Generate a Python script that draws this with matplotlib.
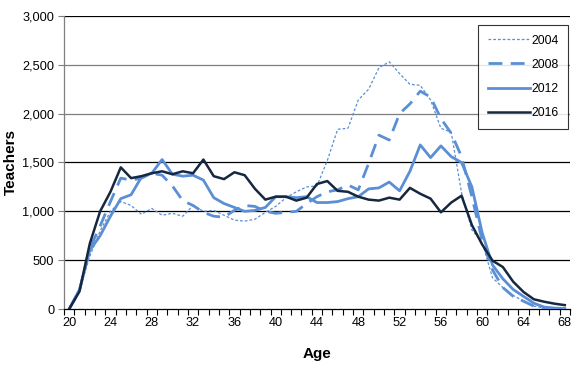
import matplotlib
matplotlib.use("Agg")
import matplotlib.pyplot as plt
import numpy as np

plt.rcParams['font.family'] = ['Liberation Sans', 'DejaVu Sans']

# === DATA ===
ages = list(range(20, 69))
t2004 = [0, 190, 540, 800, 1000, 1100, 1060, 970, 1030, 960,
         980, 950, 1060, 1000, 1010, 960, 910, 900, 920, 990,
         1050, 1140, 1200, 1250, 1260, 1520, 1840, 1850, 2140, 2250,
         2470, 2530, 2410, 2300, 2290, 2140, 1850, 1810, 1190, 810,
         680, 320, 220, 140, 80, 30, 10, 0, 0]
t2008 = [0, 190, 620, 850, 1100, 1340, 1320, 1340, 1390, 1370,
         1260, 1110, 1060, 990, 950, 940, 1010, 1060, 1050, 1000,
         980, 990, 1000, 1080, 1150, 1200, 1220, 1270, 1220, 1490,
         1780, 1730, 2000, 2100, 2230, 2170, 1950, 1800, 1560, 1150,
         700, 400, 220, 130, 80, 30, 5, 0, 0]
t2012 = [0, 200, 600, 750, 950, 1130, 1170, 1350, 1390, 1530,
         1380, 1360, 1370, 1320, 1140, 1080, 1040, 1000, 1010, 1040,
         1150, 1150, 1140, 1150, 1090, 1090, 1100, 1130, 1150, 1230,
         1240, 1300, 1210, 1410, 1680, 1550, 1670, 1560, 1500, 1250,
         780, 450, 310, 200, 130, 60, 20, 10, 5]
t2016 = [0, 180, 670, 1000, 1200, 1450, 1340, 1360, 1390, 1410,
         1380, 1410, 1390, 1530, 1360, 1330, 1400, 1370, 1230, 1120,
         1150, 1150, 1110, 1140, 1280, 1310, 1210, 1200, 1150, 1120,
         1110, 1140, 1120, 1240, 1180, 1130, 990, 1090, 1160, 860,
         660, 495, 430, 280, 175, 100, 75, 55, 40]
series_names = ['2004', '2008', '2012', '2016']
x_labels = [str(a) for a in range(20, 69, 4)]
y_levels = [500, 1000, 1500, 2000, 2500, 3000]

LIGHT = '#5a8fd6'
DARK = '#16283f'

fig = plt.figure(figsize=(5.87, 3.71), dpi=100)
ax = fig.add_axes([0.109, 0.167, 0.862, 0.790])

# gridlines
for lvl in y_levels:
    col = '#7f7f7f' if lvl in (2000, 2500) else '#000000'
    ax.axhline(lvl, color=col, lw=0.9, zorder=1)

ax.plot(ages, t2004, color=LIGHT, lw=0.9, ls=(0, (2.2, 1.6)), label=series_names[0], zorder=3)
ax.plot(ages, t2008, color=LIGHT, lw=2.0, ls=(0, (5, 3)), label=series_names[1], zorder=3)
ax.plot(ages, t2012, color=LIGHT, lw=2.0, label=series_names[2], zorder=3)
ax.plot(ages, t2016, color=DARK, lw=1.8, label=series_names[3], zorder=4)

ax.set_xlim(19.5, 68.5)
ax.set_ylim(0, 3000)

ax.set_yticks([0] + y_levels)
ax.set_yticklabels([f'{v:,}' for v in [0] + y_levels])
ax.set_xticks(range(20, 69, 4))
ax.set_xticklabels(x_labels)
ax.set_xticks(np.arange(19.5, 69, 1), minor=True)
ax.tick_params(axis='x', which='major', length=0, pad=6, labelsize=9.2)
ax.tick_params(axis='x', which='minor', length=4, width=0.8, color='#000000')
ax.tick_params(axis='y', length=4, width=0.8, color='#7f7f7f', labelsize=9.2, pad=3)

for s in ['top', 'right']:
    ax.spines[s].set_visible(False)
ax.spines['left'].set_color('#7f7f7f')
ax.spines['left'].set_linewidth(0.9)
ax.spines['bottom'].set_color('#000000')
ax.spines['bottom'].set_linewidth(0.9)

ax.set_xlabel('Age', fontsize=11, fontweight='bold', labelpad=13)
ax.set_ylabel('Teachers', fontsize=11, fontweight='bold', labelpad=3)

leg = ax.legend(loc='upper right', bbox_to_anchor=(0.997, 0.97), frameon=True,
                fancybox=False, edgecolor='#000000', fontsize=8.8,
                handlelength=3.4, handletextpad=0.15, labelspacing=1.0,
                borderpad=0.8, borderaxespad=0)
leg.get_frame().set_linewidth(0.8)

fig.savefig('out.png', dpi=100)
